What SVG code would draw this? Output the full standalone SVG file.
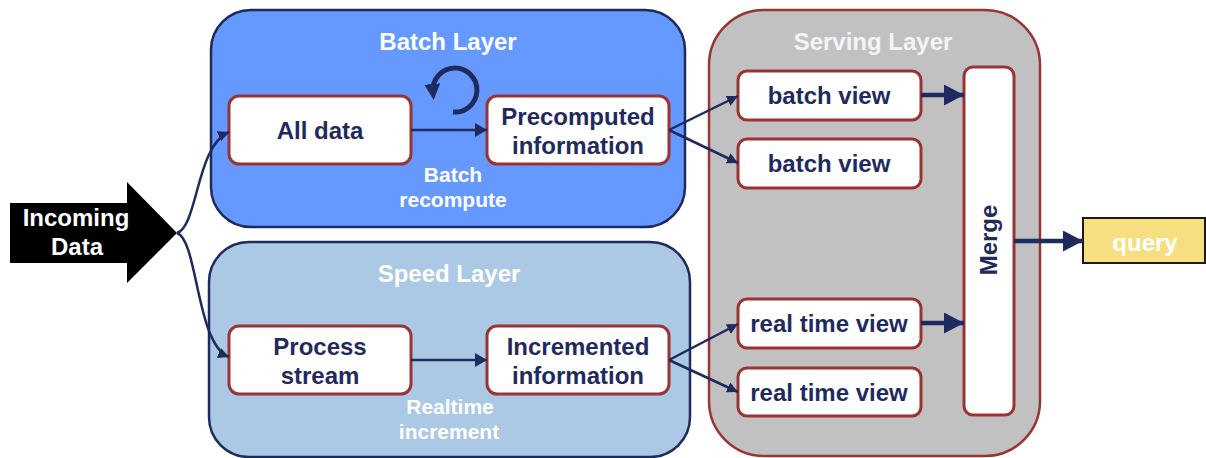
<svg xmlns="http://www.w3.org/2000/svg" width="1206" height="458" viewBox="0 0 1206 458">
<style>
text{font-family:"Liberation Sans",Arial,sans-serif;font-weight:bold}
.layer{stroke-width:2.5}
.node{fill:#ffffff;stroke:#9b3333;stroke-width:3}
.nt{fill:#1f2a5e;font-size:24px;text-anchor:middle}
.lt{fill:#ffffff;font-size:24px;text-anchor:middle}
.st{fill:#ffffff;font-size:21px;text-anchor:middle}
.thin{fill:none;stroke:#1f2a5e;stroke-width:2.5}
.thick{fill:none;stroke:#1f2a5e;stroke-width:4.5}
</style>
<defs>
<marker id="ah" markerUnits="userSpaceOnUse" markerWidth="14" markerHeight="16" refX="12" refY="7" orient="auto"><path d="M0,0 L12,7 L0,14 z" fill="#1f2a5e"/></marker>
<marker id="ahs" markerUnits="userSpaceOnUse" markerWidth="14" markerHeight="14" refX="11" refY="5.5" orient="auto"><path d="M0,0 L11,5.5 L0,11 z" fill="#1f2a5e"/></marker>
<marker id="ahb" markerUnits="userSpaceOnUse" markerWidth="22" markerHeight="22" refX="20" refY="10.5" orient="auto"><path d="M0,0 L20,10.5 L0,21 z" fill="#1f2a5e"/></marker>
<marker id="ahl" markerUnits="userSpaceOnUse" markerWidth="18" markerHeight="18" refX="8" refY="8" orient="auto"><path d="M0,0 L16,8 L0,16 z" fill="#1f2a5e"/></marker>
</defs>

<g id="batch-layer">
<rect class="layer" x="211" y="10" width="474" height="217" rx="40" fill="#6699ff" stroke="#1f2a5e"/>
<text class="lt" x="448" y="50">Batch Layer</text>
<text class="st" x="453" y="182">Batch</text>
<text class="st" x="453" y="207">recompute</text>
</g>
<g id="speed-layer">
<rect class="layer" x="209" y="242" width="481" height="215" rx="40" fill="#abc8e5" stroke="#1f2a5e"/>
<text class="lt" x="449" y="282">Speed Layer</text>
<text class="st" x="450" y="414">Realtime</text>
<text class="st" x="449" y="439">increment</text>
</g>
<g id="serving-layer">
<rect class="layer" x="709" y="10" width="331" height="446" rx="55" fill="#c0c1c0" stroke="#9b3333"/>
<text x="873" y="50" fill="#f4f4f4" font-size="24" text-anchor="middle">Serving Layer</text>
</g>

<g id="incoming-data">
<polygon points="10,203 127,203 127,182 177,233 127,283 127,263 10,263" fill="#000000"/>
<text x="76" y="226" fill="#ffffff" font-size="24" text-anchor="middle">Incoming</text>
<text x="77" y="255" fill="#ffffff" font-size="24" text-anchor="middle">Data</text>
</g>

<g id="all-data">
<rect class="node" x="229" y="96" width="182" height="68" rx="10"/>
<text class="nt" x="320" y="139">All data</text>
</g>
<g id="precomputed">
<rect class="node" x="487" y="96" width="182" height="68" rx="10"/>
<text class="nt" x="578" y="125">Precomputed</text>
<text class="nt" x="578" y="154">information</text>
</g>
<g id="process-stream">
<rect class="node" x="229" y="326" width="182" height="68" rx="10"/>
<text class="nt" x="320" y="355">Process</text>
<text class="nt" x="320" y="384">stream</text>
</g>
<g id="incremented">
<rect class="node" x="487" y="326" width="182" height="68" rx="10"/>
<text class="nt" x="578" y="355">Incremented</text>
<text class="nt" x="578" y="384">information</text>
</g>
<g id="batch-view-1">
<rect class="node" x="738" y="71" width="183" height="49" rx="9"/>
<text class="nt" x="829" y="104">batch view</text>
</g>
<g id="batch-view-2">
<rect class="node" x="738" y="139" width="183" height="49" rx="9"/>
<text class="nt" x="829" y="172">batch view</text>
</g>
<g id="real-time-view-1">
<rect class="node" x="738" y="299" width="183" height="49" rx="9"/>
<text class="nt" x="829" y="332">real time view</text>
</g>
<g id="real-time-view-2">
<rect class="node" x="738" y="368" width="183" height="48" rx="9"/>
<text class="nt" x="829" y="401">real time view</text>
</g>
<g id="merge">
<rect class="node" x="964" y="67" width="50" height="348" rx="9"/>
<text class="nt" transform="translate(997,240) rotate(-90)" x="0" y="0">Merge</text>
</g>
<g id="query">
<rect x="1083" y="218" width="122" height="45" fill="#f5df80" stroke="#1a1a1a" stroke-width="2"/>
<text x="1145" y="251" fill="#ffffff" font-size="24" text-anchor="middle">query</text>
</g>

<g id="connectors">
<path class="thin" d="M177,233 C198,226 196,146 229,132" marker-end="url(#ahs)"/>
<path class="thin" d="M177,233 C198,240 196,344 229,357" marker-end="url(#ahs)"/>
<path class="thin" d="M411,130 L487,130" marker-end="url(#ah)"/>
<path class="thin" d="M411,360 L487,360" marker-end="url(#ah)"/>
<path class="thin" d="M669,130 L738,96" marker-end="url(#ahs)"/>
<path class="thin" d="M669,130 L738,163" marker-end="url(#ahs)"/>
<path class="thin" d="M669,360 L738,324" marker-end="url(#ahs)"/>
<path class="thin" d="M669,360 L738,392" marker-end="url(#ahs)"/>
<path class="thick" d="M921,95 L964,95" marker-end="url(#ahb)"/>
<path class="thick" d="M921,323 L964,323" marker-end="url(#ahb)"/>
<path class="thick" d="M1014,241 L1083,241" marker-end="url(#ahb)"/>
<path d="M453,112 A22,22 0 1 0 433,92" fill="none" stroke="#1f2a5e" stroke-width="5" marker-end="url(#ahl)"/>
</g>
</svg>
